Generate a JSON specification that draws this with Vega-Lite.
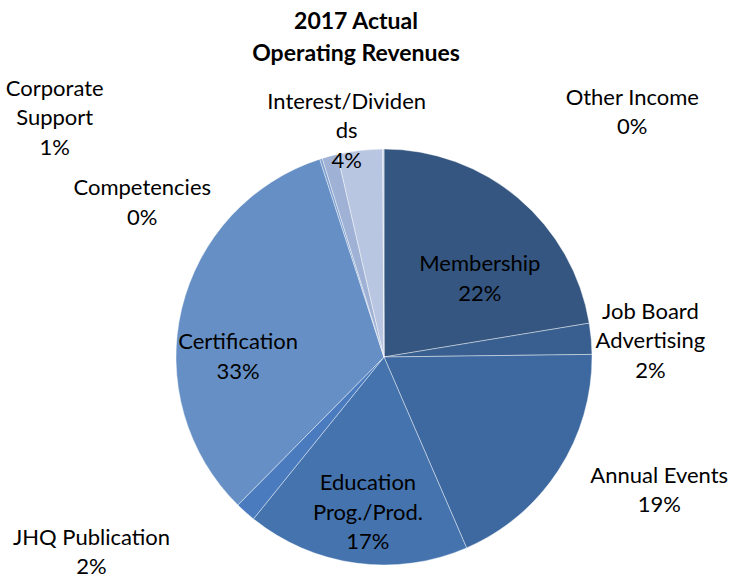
{
  "$schema": "https://vega.github.io/schema/vega-lite/v6.json",
  "width": 736,
  "height": 416,
  "autosize": {"type": "none"},
  "padding": {"left": 16, "top": 149, "right": 0, "bottom": 14},
  "background": "white",
  "title": {
    "text": ["2017 Actual", "Operating Revenues"],
    "font": "Lato",
    "fontSize": 23,
    "fontWeight": "bold",
    "color": "black",
    "anchor": "middle",
    "dx": -28,
    "offset": 12,
    "lineHeight": 32
  },
  "config": {"view": {"stroke": null}},
  "data": {
    "values": [
      {"idx": 1, "name": "Membership", "value": 22.4, "label": "Membership\n22%"},
      {"idx": 2, "name": "Job Board Advertising", "value": 2.4, "label": "Job Board\nAdvertising\n2%"},
      {"idx": 3, "name": "Annual Events", "value": 18.7, "label": "Annual Events\n19%"},
      {"idx": 4, "name": "Education Prog./Prod.", "value": 17.3, "label": "Education\nProg./Prod.\n17%"},
      {"idx": 5, "name": "JHQ Publication", "value": 1.6, "label": "JHQ Publication\n2%"},
      {"idx": 6, "name": "Certification", "value": 32.6, "label": "Certification\n33%"},
      {"idx": 7, "name": "Competencies", "value": 0.2, "label": "Competencies\n0%"},
      {"idx": 8, "name": "Corporate Support", "value": 1.2, "label": "Corporate\nSupport\n1%"},
      {"idx": 9, "name": "Interest/Dividends", "value": 3.5, "label": "Interest/Dividen\nds\n4%"},
      {"idx": 10, "name": "Other Income", "value": 0.1, "label": "Other Income\n0%"}
    ]
  },
  "transform": [
    {"stack": "value", "groupby": [], "sort": [{"field": "idx", "order": "ascending"}], "as": ["v0", "v1"]}
  ],
  "layer": [
    {
      "mark": {"type": "arc", "outerRadius": 208, "stroke": "white", "strokeWidth": 0.6, "strokeOpacity": 0.7},
      "encoding": {
        "theta": {"field": "v0", "type": "quantitative", "scale": {"domain": [0, 100]}},
        "theta2": {"field": "v1"},
        "color": {
          "field": "name",
          "type": "nominal",
          "scale": {
            "domain": ["Membership", "Job Board Advertising", "Annual Events", "Education Prog./Prod.", "JHQ Publication", "Certification", "Competencies", "Corporate Support", "Interest/Dividends", "Other Income"],
            "range": ["#345680", "#385f8f", "#3e69a0", "#4473ae", "#4a7bbe", "#6690c5", "#7f9fcf", "#9fb2d6", "#b9c6e1", "#c9d4e9"]
          },
          "legend": null
        }
      }
    },
    {
      "transform": [{"filter": "datum.name === 'Membership'"}],
      "mark": {"type": "text", "radius": 126, "thetaOffset": 0.864, "dy": -11, "font": "Lato", "fontSize": 22, "lineBreak": "\n", "lineHeight": 29.5, "color": "black"},
      "encoding": {"theta": {"field": "v0", "type": "quantitative"}, "text": {"field": "label"}}
    },
    {
      "transform": [{"filter": "datum.name === 'Job Board Advertising'"}],
      "mark": {"type": "text", "radius": 267, "thetaOffset": 0.095, "dy": -27, "font": "Lato", "fontSize": 22, "lineBreak": "\n", "lineHeight": 29.5, "color": "black"},
      "encoding": {"theta": {"field": "v0", "type": "quantitative"}, "text": {"field": "label"}}
    },
    {
      "transform": [{"filter": "datum.name === 'Annual Events'"}],
      "mark": {"type": "text", "radius": 306, "thetaOffset": 0.465, "dy": -15, "font": "Lato", "fontSize": 22, "lineBreak": "\n", "lineHeight": 29.5, "color": "black"},
      "encoding": {"theta": {"field": "v0", "type": "quantitative"}, "text": {"field": "label"}}
    },
    {
      "transform": [{"filter": "datum.name === 'Education Prog./Prod.'"}],
      "mark": {"type": "text", "radius": 154, "thetaOffset": 0.513, "dy": -27, "font": "Lato", "fontSize": 22, "lineBreak": "\n", "lineHeight": 29.5, "color": "black"},
      "encoding": {"theta": {"field": "v0", "type": "quantitative"}, "text": {"field": "label"}}
    },
    {
      "transform": [{"filter": "datum.name === 'JHQ Publication'"}],
      "mark": {"type": "text", "radius": 353, "thetaOffset": 0.298, "dy": -17, "font": "Lato", "fontSize": 22, "lineBreak": "\n", "lineHeight": 29.5, "color": "black"},
      "encoding": {"theta": {"field": "v0", "type": "quantitative"}, "text": {"field": "label"}}
    },
    {
      "transform": [{"filter": "datum.name === 'Certification'"}],
      "mark": {"type": "text", "radius": 146, "thetaOffset": 0.757, "dy": -20, "font": "Lato", "fontSize": 22, "lineBreak": "\n", "lineHeight": 29.5, "color": "black"},
      "encoding": {"theta": {"field": "v0", "type": "quantitative"}, "text": {"field": "label"}}
    },
    {
      "transform": [{"filter": "datum.name === 'Competencies'"}],
      "mark": {"type": "text", "radius": 288, "thetaOffset": -0.682, "dy": -12, "font": "Lato", "fontSize": 22, "lineBreak": "\n", "lineHeight": 29.5, "color": "black"},
      "encoding": {"theta": {"field": "v0", "type": "quantitative"}, "text": {"field": "label"}}
    },
    {
      "transform": [{"filter": "datum.name === 'Corporate Support'"}],
      "mark": {"type": "text", "radius": 407, "thetaOffset": -0.641, "dy": -29, "font": "Lato", "fontSize": 22, "lineBreak": "\n", "lineHeight": 29.5, "color": "black"},
      "encoding": {"theta": {"field": "v0", "type": "quantitative"}, "text": {"field": "label"}}
    },
    {
      "transform": [{"filter": "datum.name === 'Interest/Dividends'"}],
      "mark": {"type": "text", "radius": 240, "thetaOffset": 0.07, "dy": -18, "font": "Lato", "fontSize": 22, "lineBreak": "\n", "lineHeight": 29.5, "color": "black"},
      "encoding": {"theta": {"field": "v0", "type": "quantitative"}, "text": {"field": "label"}}
    },
    {
      "transform": [{"filter": "datum.name === 'Other Income'"}],
      "mark": {"type": "text", "radius": 351, "thetaOffset": 0.792, "dy": -11, "font": "Lato", "fontSize": 22, "lineBreak": "\n", "lineHeight": 29.5, "color": "black"},
      "encoding": {"theta": {"field": "v0", "type": "quantitative"}, "text": {"field": "label"}}
    }
  ]
}
